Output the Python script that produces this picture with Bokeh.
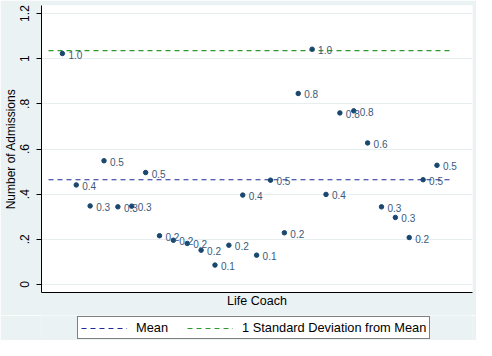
from bokeh.plotting import figure
from bokeh.layouts import column
from bokeh.models import (ColumnDataSource, Range1d, FixedTicker, Legend, LegendItem)
from bokeh.core.properties import value
from bokeh.embed import file_html
from bokeh.resources import INLINE

# ---- data ----
coach_index = list(range(1, 29))
admissions = [1.023, 0.441, 0.348, 0.548, 0.344, 0.347, 0.496, 0.216, 0.196, 0.182,
              0.152, 0.086, 0.174, 0.396, 0.130, 0.462, 0.229, 0.846, 1.042, 0.399,
              0.760, 0.769, 0.627, 0.344, 0.297, 0.208, 0.464, 0.528]
point_labels = ["1.0", "0.4", "0.3", "0.5", "0.3", "0.3", "0.5", "0.2", "0.2", "0.2",
                "0.2", "0.1", "0.2", "0.4", "0.1", "0.5", "0.2", "0.8", "1.0", "0.4",
                "0.8", "0.8", "0.6", "0.3", "0.3", "0.2", "0.5", "0.5"]
mean_value = 0.464
sd_value = 1.036
y_ticks = [0, 0.2, 0.4, 0.6, 0.8, 1.0, 1.2]
y_tick_labels = ["0", ".2", ".4", ".6", ".8", "1", "1.2"]
line_span = [0, len(coach_index) + 1]
legend_labels = ["Mean", "1 Standard Deviation from Mean"]

FONT = "Liberation Sans"
BG = "#eaf2f3"
MARKER = "#1a476f"
MEAN_COLOR = "#1e2a96"
SD_COLOR = "#2e9a2e"
DASH = "5 4"

p = figure(width=476, height=315, output_backend="svg", toolbar_location=None,
           x_range=Range1d(-0.505, 30.56), y_range=Range1d(-0.0354, 1.2356),
           min_border_left=39, min_border_right=4, min_border_top=5, min_border_bottom=23)
p.background_fill_color = "white"
p.border_fill_color = BG
p.outline_line_color = None

# axes
p.xaxis.ticker = FixedTicker(ticks=[])
p.xaxis.axis_label = "Life Coach"
p.xaxis.axis_label_standoff = 1
p.xaxis.axis_label_text_font = FONT
p.xaxis.axis_label_text_font_style = "normal"
p.xaxis.axis_label_text_font_size = "12.5px"
p.xaxis.axis_label_text_color = "black"
p.xaxis.major_tick_out = 0
p.xaxis.major_tick_in = 0
p.xaxis.minor_tick_out = 0
p.xaxis.minor_tick_in = 0
p.xaxis.axis_line_color = "black"

p.yaxis.ticker = FixedTicker(ticks=y_ticks)
p.yaxis.major_label_overrides = {t: l for t, l in zip(y_ticks, y_tick_labels)}
p.yaxis.major_label_orientation = "vertical"
p.yaxis.major_label_text_font = FONT
p.yaxis.major_label_text_font_size = "12px"
p.yaxis.major_label_text_color = "black"
p.yaxis.major_label_standoff = 7
p.yaxis.major_tick_out = 5
p.yaxis.major_tick_in = 0
p.yaxis.minor_tick_out = 0
p.yaxis.minor_tick_in = 0
p.yaxis.axis_line_color = "black"
p.yaxis.major_tick_line_color = "black"
p.yaxis.axis_label = "Number of Admissions"
p.yaxis.axis_label_standoff = 0
p.yaxis.axis_label_text_font = FONT
p.yaxis.axis_label_text_font_style = "normal"
p.yaxis.axis_label_text_font_size = "12px"
p.yaxis.axis_label_text_color = "black"

p.xgrid.grid_line_color = None
p.ygrid.ticker = FixedTicker(ticks=y_ticks)
p.ygrid.grid_line_color = "#e6eef0"
p.ygrid.grid_line_width = 1

# reference lines
p.line(line_span, [mean_value, mean_value], line_color=MEAN_COLOR,
       line_dash=DASH, line_width=1.2)
p.line(line_span, [sd_value, sd_value], line_color=SD_COLOR,
       line_dash=DASH, line_width=1.2)

src = ColumnDataSource(dict(x=coach_index, y=admissions, lab=point_labels))
p.scatter("x", "y", source=src, size=4.5, marker="circle", fill_color=MARKER,
          line_color=MARKER)
p.text("x", "y", text="lab", source=src, x_offset=6, y_offset=1,
       text_baseline="middle", text_align="left", text_font=value(FONT),
       text_font_size="10px", text_color="#3a5a7a")

# legend strip below the plot (legend-only glyphs carry no data points)
q = figure(width=476, height=25, output_backend="svg", toolbar_location=None,
           x_axis_location=None, y_axis_location=None,
           x_range=Range1d(0, 1), y_range=Range1d(0, 1),
           min_border_left=0, min_border_right=0, min_border_top=0, min_border_bottom=0)
q.background_fill_color = BG
q.border_fill_color = BG
q.outline_line_color = None
q.grid.visible = False
nan = float("nan")
lm = q.line(x=[nan], y=[nan], line_color=MEAN_COLOR, line_dash=DASH, line_width=1.2)
ls = q.line(x=[nan], y=[nan], line_color=SD_COLOR, line_dash=DASH, line_width=1.2)

legend = Legend(items=[LegendItem(label=legend_labels[0], renderers=[lm]),
                       LegendItem(label=legend_labels[1], renderers=[ls])],
                orientation="horizontal", location=(36, 1))
legend.label_text_font = FONT
legend.label_text_font_size = "12.8px"
legend.label_text_color = "black"
legend.glyph_width = 46
legend.glyph_height = 12
legend.label_height = 12
legend.label_standoff = 9
legend.spacing = 19
legend.padding = 3
legend.margin = 0
legend.border_line_color = "black"
legend.border_line_width = 1
legend.background_fill_color = "white"
legend.background_fill_alpha = 1
q.add_layout(legend)

layout = column(p, q, spacing=0)
open("out.html", "w").write(file_html(layout, INLINE))
